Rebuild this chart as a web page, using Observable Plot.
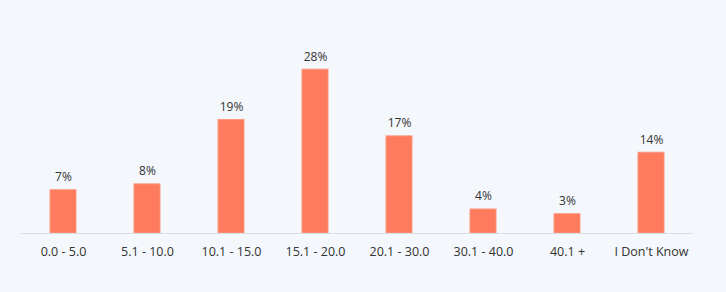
<!DOCTYPE html>
<html>
<head>
<meta charset="utf-8">
<script src="https://cdn.jsdelivr.net/npm/d3@7"></script>
<script src="https://cdn.jsdelivr.net/npm/@observablehq/plot@0.6"></script>
<style>
  html, body { margin: 0; padding: 0; background: #f4f7fb; }
  #chart svg { display: block; background: #f4f7fb; }
</style>
</head>
<body>
<div id="chart"></div>
<script>
const categories = ["0.0 - 5.0", "5.1 - 10.0", "10.1 - 15.0", "15.1 - 20.0", "20.1 - 30.0", "30.1 - 40.0", "40.1 +", "I Don't Know"];
const values = [7.4, 8.4, 19.4, 28.0, 16.6, 4.1, 3.3, 13.8];
const labels = ["7%", "8%", "19%", "28%", "17%", "4%", "3%", "14%"];

const data = categories.map((c, i) => ({category: c, value: values[i], label: labels[i]}));

const chart = Plot.plot({
  width: 726,
  height: 292,
  marginLeft: 21,
  marginRight: 33,
  marginTop: 57.5,
  marginBottom: 59,
  style: {background: "#f4f7fb", fontFamily: "'Open Sans', sans-serif", color: "#333"},
  x: {domain: categories, paddingInner: 0.69, paddingOuter: 0.345, label: null, tickSize: 0, tickPadding: 14},
  y: {domain: [0, 30], axis: null},
  marks: [
    Plot.barY(data, {x: "category", y: "value", fill: "#ff7b5d", stroke: "#ff9880", strokeWidth: 1}),
    Plot.ruleY([0], {stroke: "#d9dee5", strokeWidth: 1.2}),
    Plot.text(data, {x: "category", y: "value", text: "label", dy: -13, fontSize: 12, fill: "#333"}),
    Plot.axisX({tickSize: 0, tickPadding: 14, fontSize: 12.5, label: null, fill: "#333"})
  ]
});
document.getElementById("chart").appendChild(chart);
</script>
</body>
</html>
